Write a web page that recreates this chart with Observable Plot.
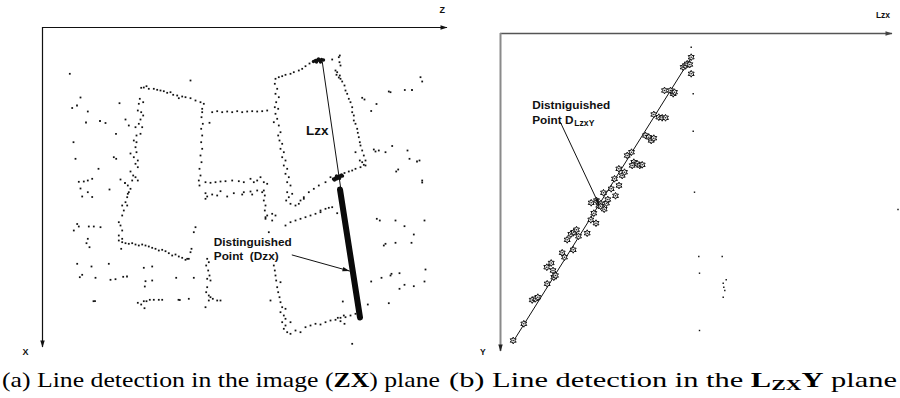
<!DOCTYPE html>
<html><head><meta charset="utf-8">
<script src="https://cdn.jsdelivr.net/npm/d3@7"></script>
<script src="https://cdn.jsdelivr.net/npm/@observablehq/plot@0.6"></script>
<style>
html,body{margin:0;padding:0;background:#fff;}
#fig{position:relative;width:900px;height:398px;overflow:hidden;background:#fff;}
#a{position:absolute;left:0;top:0;}
#b{position:absolute;left:450px;top:0;}
#cap{position:absolute;left:0;top:362px;}
#cap text{font-family:"Liberation Serif","Times New Roman",serif;fill:#000;}
</style></head><body>
<div id="fig">
<div id="a"></div><div id="b"></div>
<svg id="cap" width="900" height="36">
<text x="2" y="25" font-size="21" textLength="438" lengthAdjust="spacingAndGlyphs">(a) Line detection in the image (<tspan font-weight="bold">ZX</tspan>) plane</text>
<text x="449" y="25" font-size="21" textLength="448" lengthAdjust="spacingAndGlyphs">(b) Line detection in the <tspan font-weight="bold">L</tspan><tspan font-weight="bold" font-size="15" dy="3">ZX</tspan><tspan font-weight="bold" dy="-3">Y</tspan> plane</text>
</svg>
</div>
<script>
// ---------- Panel (a): ZX image plane (units: image pixels) ----------
const zxScatter = [
[69.3,73.3],[80,97],[76.5,105],[71.7,107.5],[87.3,111],[119,102.7],[85.5,122],[99.5,120.5],[105,122.5],[125,119],[128.3,125],[115.5,133.3],[73,141.7],[75,158.3],[113.3,156.7],[115.7,158.3],[130,153],[98,168.3],[78.3,181.3],[83.3,181],[87.3,180],[91.7,178.3],[80,188],[109,189],[120,179],[124.5,182.5],[127.3,193.3],[81.7,196],[91.7,196.5],[87.3,191.7],[190,80],
[76.7,223.5],[78.3,226],[88.3,226],[93.3,226],[100,226.7],[73.3,230],[87.3,238.3],[86,242.7],[89,246.7],[76.7,263.3],[91,266],[108.3,263.3],[79.3,276.7],[81.7,274.3],[95,277.3],[110,279.3],[115,278.7],[122.7,276.3],[126.5,276],[143.3,267.3],[151.7,266],[145,280.7],[151.7,280],[144.3,286],[175.7,277.3],[193.3,277.3],[193.3,231.7],[195,226.7],[93,300.7],[94.5,300.7],[137.3,302.3],[140.7,304],[143.3,300.7],[146,300.7],[149.3,299.3],[153.3,299.3],[158.3,299.3],[161.7,299.3],[178,299.3],[179.3,299.5],[144,307.7],[188.3,298.3],[205,306.7],[220,300],[216.7,300],[270,300],[268.3,231.7],[271.7,220],[265,216.7],[271.7,213.3],[275,215],[209,122.3],
[420,76.7],[421.7,81],[361.7,97.3],[364,99],[376,103.5],[370.7,110.5],[388.3,91],[390,91.7],[404.3,89.5],[411.5,89.5],[373.3,149],[375,151],[378.3,150],[385,151.7],[391.7,145.5],[407,150],[409,158.3],[416.5,161],[419,160],[397.7,169],[395.7,171],[421.7,180],[421.7,182],
[376.3,218.3],[379.3,220],[395,220],[404,225.7],[424,220],[413.3,234],[383.3,245],[385,243.3],[395,242.3],[411,242.3],[425,269],[399,272.7],[391,273.3],[390,275],[381,277.3],[370.7,281],[424,281],[404,284.3],[413.3,285.7],[399,288.3],[342.3,301],[367.3,304],[388.3,302.7],[351.7,343.3]
];
const zxEdges = [
[140.7,87.3],[143.3,87],[146,85.7],[139.3,98.3],[138.3,103.3],[142.7,101.7],[137.3,110],[140.7,111.7],[142.7,115],[140,119],[138.3,123.3],[141.7,126.7],[135,126.7],[140,133.3],[136,135],[133.3,140],[136,141.7],[135,146.7],[136,151.7],[133.3,156.7],[137.3,160],[135,163.3],[137.3,166.7],[130,171],[132.7,175],[135,176.7],[131.7,180],[137.3,180],[127.3,185],[130,188.3],[128.3,191.7],[126.7,196.7],[125,201.7],[121.7,205],[126.7,205],[123.3,210],[121.7,215],[118.3,221.7],[120,225],[121.7,230],[118.3,235],[121.7,238.3],[120.7,248.3],
[148.3,88.3],[153.3,88.3],[156.7,89.3],[160,90],[163.3,90.7],[166.7,92.3],[170,91.7],[172.7,94.3],[176.7,95],[178.3,97.7],[181.7,96],[185,96.7],[190,97.7],[195,100],[200,101.7],[203.3,103.3],
[201.7,108.3],[201.7,111.7],[201,116.7],[202.3,123.3],[200.7,128.3],[201.7,135],[200.7,141.7],[201.7,148.3],[200,155],[201,161.7],[199,168.3],[200,175],[198.3,180],[199,185],
[211.7,111.7],[216.7,110.7],[221.7,111.7],[226.7,111],[231.7,111.7],[236.7,110.7],[241.7,111.7],[246.7,111],[251.7,110.7],[256.7,111],[261.7,110.7],[266.7,110],
[205,181.7],[210,182.3],[215,181.7],[220,181],[225,180.7],[231.7,180],[238.3,180.7],[243.3,181.7],[250,178.3],[253.3,181.7],[256.7,180],[260,176.7],[263.3,181.7],[266.7,183.3],[205,192.7],[206.7,196],[205,198.3],[211.7,194],[216.7,195],[220,190.7],[226.7,196],[233.3,192.7],[241.7,194],[243.3,191.7],[250,191],[251.7,194],[256.7,190],[261.7,191.7],
[263.3,190],[264.3,195],[263.3,200],[265,205],[264.3,210],[266.7,215],[265,218.3],
[275,78.3],[278.3,76.7],[281.7,75.7],[274.3,83.3],[276.7,88.3],[275,93.3],[278.3,96.7],[275.7,101.7],[274.3,106.7],[277.7,108.3],[275,113.3],[276.7,118.3],[273.3,121.7],[278.3,125],[280,131.7],[277.7,135],[279,140],[281.7,143.3],[280,148.3],[283.3,151.7],[281.7,156.7],[285,160],[283.3,165],[286.7,168.3],[285,173.3],[288.3,176.7],[286.7,181.7],[290,185],[286.7,191.7],[288.3,196.7],[285.7,200],[290,203.3],[291.7,193.3],
[285,74.3],[290,73.3],[293.3,71.7],[298.3,70],[301.7,68.3],[305,65.7],[309,63],
[331.7,59],[338.3,56.7],[339.3,55],[339,61.7],[340,65],[335,70],[336.7,71.7],[336,74.3],[339.3,75],[338.3,77],[340,78.3],[341.7,81],[344,85],[345,90],[346.7,93.3],[348.3,98.3],[350,101.7],[351.7,106.7],[351.7,111.7],[353.3,115],[353.3,120],[355,123.3],[356.7,128.3],[357.3,132.3],[358.3,136.7],[359.3,141.7],[360,145],[361.7,150],[355,151.7],[363.3,155],[365,160],[361.7,161.7],[359.3,160],[363.3,164.3],
[365,165],[360,166.7],[355,168.3],[351.7,170],[348.3,171],[344,172.5],[330,176.7],[325,181.7],[318.3,185],[313.3,188.3],[308.3,191.7],[303.3,196.7],[300,200],[303.3,198.3],[298.3,203.3],[295,205],
[285,225],[290,221.7],[295,220],[300,218.3],[305,216.7],[310,215],[315,213.3],[320,211.7],[320,210],[325,208.3],[328.3,207.3],[331.7,206.7],[336.7,212.7],
[273.3,265],[274.3,270],[275,275],[275.7,280],[280,281.7],[276.7,286.7],[277.7,291.7],[279,296.7],[280,301.7],[281.7,306.7],[285,308.3],[280,311.7],[283.3,315],[285,318.3],[281.7,321.7],[285,325],[283.3,328.3],[286.7,331.7],[290,321.7],
[290,333.3],[295,330],[300,331.7],[305,326.7],[310,325],[315,323.3],[320,324],[325,321.7],[330,320],[335,319.3],[340,317.3],[345,316.7],[350,315],[355,313.3],[360,315],[337.3,317.3],[340,320.7],[344,323.3],[343.3,315],
[118.3,240],[121.7,241.7],[125,242.7],[128.3,243.3],[131.7,242.7],[135,244],[138.3,245],[141.7,244],[145,245],[148.3,246],[151.7,247.3],[155,248.3],[158.3,250],[161.7,249.3],[165,250.7],[168.3,252.7],[171.7,255],[175,254],[178.3,256],[181.7,257.3],[185,259.3],[188.3,258.3],[190,251.7],[191,248.3],[186.7,258.3],
[206.7,258.3],[208.3,261.7],[205.7,265],[207.7,270],[209,275],[206.7,278.3],[210,280],[206.7,286.7],[205.7,291.7],[208.3,295],[210,296.7],[212.3,298.3],[208.3,300]
];
const zxClusters = [
[313,61],[315,60],[317,59.5],[319,60],[321,59],[316,61.5],[320,61.5],[323,59.5],[318,58.5],
[333,178.5],[335,177.5],[337,176.5],[339,175.5],[341,174.5],[334,179.5],[336,178.5],[338,177],[340,176],[336,175.5],[342,175.5],[339,178]
];
const zxLineLzx = [[321.5,59.5],[341,193]];
const zxDenseBar = [[339.5,189],[359.5,317]];
const zxArrow = [[291.7,254.5],[349,270.5]];
const zxAxisZ = {at:27, from:42, to:447};
const zxAxisX = {at:42, from:27, to:347};
const zxLabels = [
  {z:441.7, x:10, text:"Z"},
  {z:25, x:351.7, text:"X"}
];
const zxNotes = [
  {z:316.7, x:130, text:"Lzx"},
  {z:213.3, x:241.7, text:"Distinguished"},
  {z:213.3, x:256, text:"Point  (Dzx)"}
];

// ---------- Panel (b): LzxY plane ----------
const lyStars = [
[512.7,340],[523.3,323.3],[531.7,299.5],[535,298.3],[537.3,296.7],[546.7,283.3],[553.3,276.7],[555,275],[546.3,266.7],[550.7,262.5],[552.5,270],[561.7,252.3],[564,256.7],[572.7,249.3],[566.7,239.3],[570.3,233.7],[573.3,231.7],[576,229.2],[578,235.8],[586.7,232.7],[590.3,219.3],[595.5,222.7],[593.3,212.7],[590.7,202.3],[598.3,205],[600,203.3],[603.7,208.7],[606,202.7],[607.3,199],[603,192.3],[615,195.3],[610.7,188.3],[618.5,185],[614,178.3],[621.7,175],[624,171.7],[618.3,168.3],[626.7,155],[631,151.7],[633.3,161.7],[636.7,163.3],[639.3,165],[641.7,164.3],[631.7,165],[645,135],[648.3,136.7],[650.7,140],[653.3,137.7],[653.3,114],[658.3,116.7],[661.7,117.3],[665,117.3],[664,90],[670,90],[672.7,93.3],[674,91.7],[682.7,66.7],[685,65],[686.7,63.3],[690.7,56.7],[689.3,64],[690.7,73.3],[596,200],[600,205.7]
];
const lyDots = [
[690.7,46.7],[692.7,93.3],[692.7,130.7],[694,191.7],[698.3,256],[721.7,256],[699,272.7],[725.7,279.3],[722.7,282.7],[723.3,286.7],[724.3,290],[722.7,296.7],[699,330],[897.5,209]
];
const lyFit = [[512.7,341],[692,55]];
const lyArrow = [[560,122],[598.5,204]];
const lyAxisL = {at:33, from:500, to:892};
const lyAxisY = {at:500, from:33, to:351};
const lyLabels = [
  {l:882.5, y:15, text:"Lzx"},
  {l:482.3, y:351.7, text:"Y"}
];
const lyNotes = [
  {l:531.7, y:105, text:"Distniguished"},
  {l:531.7, y:119.5, text:"Point D"},
  {l:573.8, y:123, text:"LzxY"}
];

// ---------- helpers ----------
const SANS = "'Liberation Sans', Arial, Helvetica, sans-serif";
const pts = (arr, a, b) => arr.map(([u, v]) => ({[a]: u, [b]: v}));
const head = (deg, len, wid) => {
  const t = deg * Math.PI / 180, ux = Math.cos(t), uy = Math.sin(t), px = -uy, py = ux;
  return {draw(ctx) {
    ctx.moveTo(0, 0);
    ctx.lineTo(-ux * len + px * wid / 2, -uy * len + py * wid / 2);
    ctx.lineTo(-ux * len - px * wid / 2, -uy * len - py * wid / 2);
    ctx.closePath();
  }};
};
const angleOf = ([[x1, y1], [x2, y2]]) => Math.atan2(y2 - y1, x2 - x1) * 180 / Math.PI;
const hexStar = {draw(ctx, size) {
  const R = Math.sqrt(size / Math.PI), r = R * 0.55;
  for (let i = 0; i < 12; i++) {
    const a = -Math.PI / 2 + i * Math.PI / 6, rr = i % 2 ? r : R;
    const x = rr * Math.cos(a), y = rr * Math.sin(a);
    if (i) ctx.lineTo(x, y); else ctx.moveTo(x, y);
  }
  ctx.closePath();
}};

// ---------- Panel (a) ----------
const A = Plot.plot({
  width: 450, height: 362,
  x: {domain: [0, 450], range: [0, 450], axis: null},
  y: {domain: [0, 362], range: [0, 362], axis: null},
  style: {background: "white", overflow: "visible"},
  marks: [
    Plot.ruleY([zxAxisZ], {y: "at", x1: "from", x2: "to", stroke: "#111", strokeWidth: 1.2}),
    Plot.ruleX([zxAxisX], {x: "at", y1: "from", y2: "to", stroke: "#111", strokeWidth: 1.2}),
    Plot.dot([zxAxisZ], {x: "to", y: "at", r: 3, symbol: head(0, 7, 4.5), fill: "#111"}),
    Plot.dot([zxAxisX], {x: "at", y: "to", r: 3, symbol: head(90, 7, 4.5), fill: "#111"}),
    Plot.dot(pts(zxScatter, "z", "x"), {x: "z", y: "x", r: 1, symbol: "square", fill: "#111"}),
    Plot.dot(pts(zxEdges, "z", "x"), {x: "z", y: "x", r: 1, symbol: "square", fill: "#111"}),
    Plot.dot(pts(zxClusters, "z", "x"), {x: "z", y: "x", r: 1.7, fill: "#111"}),
    Plot.line(pts(zxLineLzx, "z", "x"), {x: "z", y: "x", stroke: "#111", strokeWidth: 1}),
    Plot.line(pts(zxDenseBar, "z", "x"), {x: "z", y: "x", stroke: "#0a0a0a", strokeWidth: 6}),
    Plot.line(pts(zxArrow, "z", "x"), {x: "z", y: "x", stroke: "#111", strokeWidth: 1}),
    Plot.dot(pts(zxArrow.slice(1), "z", "x"), {x: "z", y: "x", r: 3, symbol: head(angleOf(zxArrow), 7, 4.5), fill: "#111"}),
    Plot.text(zxLabels, {x: "z", y: "x", text: "text", fontSize: 9, fontWeight: "bold", fontFamily: SANS, fill: "#111"}),
    Plot.text(zxNotes.slice(0, 1), {x: "z", y: "x", text: "text", fontSize: 13.5, fontWeight: "bold", fontFamily: SANS, textAnchor: "middle", fill: "#111"}),
    Plot.text(zxNotes.slice(1), {x: "z", y: "x", text: "text", fontSize: 11.8, fontWeight: "bold", fontFamily: SANS, textAnchor: "start", fill: "#111"})
  ]
});
document.getElementById("a").appendChild(A);

// ---------- Panel (b) ----------
const B = Plot.plot({
  width: 450, height: 362,
  x: {domain: [450, 900], range: [0, 450], axis: null},
  y: {domain: [0, 362], range: [0, 362], axis: null},
  style: {background: "white", overflow: "visible"},
  marks: [
    Plot.ruleY([lyAxisL], {y: "at", x1: "from", x2: "to", stroke: "#555", strokeWidth: 1.3}),
    Plot.ruleX([lyAxisY], {x: "at", y1: "from", y2: "to", stroke: "#8a8a8a", strokeWidth: 2}),
    Plot.dot([lyAxisL], {x: "to", y: "at", r: 3, symbol: head(0, 7, 4.5), fill: "#444"}),
    Plot.dot([lyAxisY], {x: "at", y: "to", r: 3, symbol: head(90, 7, 4.5), fill: "#222"}),
    Plot.line(pts(lyFit, "l", "y"), {x: "l", y: "y", stroke: "#111", strokeWidth: 1}),
    Plot.dot(pts(lyDots, "l", "y"), {x: "l", y: "y", r: 0.8, symbol: "square", fill: "#111"}),
    Plot.dot(pts(lyStars, "l", "y"), {x: "l", y: "y", r: 3.4, symbol: hexStar, fill: "#f4f4f4", stroke: "#111", strokeWidth: 1}),
    Plot.dot(pts(lyStars, "l", "y"), {x: "l", y: "y", r: 0.8, fill: "#222"}),
    Plot.line(pts(lyArrow, "l", "y"), {x: "l", y: "y", stroke: "#111", strokeWidth: 1}),
    Plot.dot(pts(lyArrow.slice(1), "l", "y"), {x: "l", y: "y", r: 3, symbol: head(angleOf(lyArrow), 6, 4), fill: "#111"}),
    Plot.text(lyLabels, {x: "l", y: "y", text: "text", fontSize: 8.5, fontWeight: "bold", fontFamily: SANS, fill: "#111"}),
    Plot.text(lyNotes.slice(0, 2), {x: "l", y: "y", text: "text", fontSize: 11.8, fontWeight: "bold", fontFamily: SANS, textAnchor: "start", fill: "#111"}),
    Plot.text(lyNotes.slice(2), {x: "l", y: "y", text: "text", fontSize: 8.6, fontWeight: "bold", fontFamily: SANS, textAnchor: "start", fill: "#111"})
  ]
});
document.getElementById("b").appendChild(B);
</script>
</body></html>
